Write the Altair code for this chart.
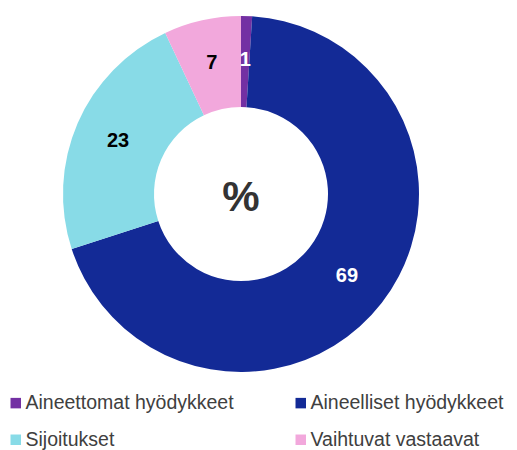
import altair as alt
import pandas as pd

categories = ["Aineettomat hyödykkeet", "Aineelliset hyödykkeet", "Sijoitukset", "Vaihtuvat vastaavat"]
values = [1, 69, 23, 7]
colors = ["#7330A3", "#132A96", "#88DBE7", "#F2A8DC"]
label_colors = ["#FFFFFF", "#FFFFFF", "#000000", "#000000"]

df = pd.DataFrame({
    "category": categories,
    "value": values,
    "order": list(range(len(categories))),
    "labelColor": label_colors,
})

cx, cy = 233, 186

base = alt.Chart(df).encode(
    theta=alt.Theta("value:Q", stack=True),
    order=alt.Order("order:Q"),
    x=alt.value(cx),
    y=alt.value(cy),
)

arcs = base.mark_arc(outerRadius=178, innerRadius=87, stroke=None).encode(
    color=alt.Color(
        "category:N",
        scale=alt.Scale(domain=categories, range=colors),
        sort=categories,
        legend=alt.Legend(
            title=None,
            orient="none",
            legendX=-2,
            legendY=385,
            direction="horizontal",
            columns=2,
            columnPadding=57,
            rowPadding=16,
            padding=0,
            symbolType="square",
            symbolSize=110,
            symbolStrokeWidth=0,
            labelFont="Liberation Sans",
            labelFontSize=19.5,
            labelColor="#404040",
            labelLimit=300,
            symbolOffset=0,
            labelOffset=0,
        ),
    )
)

labels = base.mark_text(radius=134, font="Liberation Sans", fontSize=20, fontWeight="bold").encode(
    text=alt.Text("value:Q"),
    fill=alt.Fill("labelColor:N", scale=None),
)

center = alt.Chart(pd.DataFrame({"t": ["%"]})).mark_text(
    font="Liberation Sans", fontSize=42, fontWeight="bold", color="#333333"
).encode(text="t:N", x=alt.value(cx), y=alt.value(cy + 4))

chart = alt.layer(arcs, labels, center).properties(
    width=501, height=442, autosize=alt.AutoSizeParams(type="none"), padding=0
).configure_view(stroke=None)

chart.save("out.html", embed_options={"renderer": "svg", "actions": False})
